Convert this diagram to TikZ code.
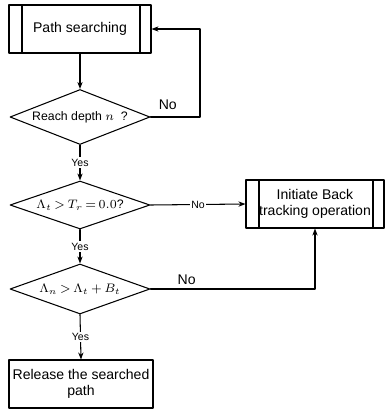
\documentclass[tikz,border=0pt]{standalone}
\usepackage{fontspec}
\setmainfont{Liberation Sans}
\usetikzlibrary{shapes.geometric,arrows.meta}

\tikzset{
  flow/.style={line width=0.6pt, -{Stealth[length=4pt,width=3pt]}},
  procbox/.style={draw, line width=0.6pt, minimum width=2.84cm, minimum height=0.96cm,
    inner sep=1pt, align=center, font=\fontsize{8}{9.5}\selectfont,
    path picture={
      \draw ([xshift=0.26cm]path picture bounding box.north west) -- ([xshift=0.26cm]path picture bounding box.south west);
      \draw ([xshift=-0.22cm]path picture bounding box.north east) -- ([xshift=-0.22cm]path picture bounding box.south east);
    }},
  endbox/.style={draw, line width=0.6pt, minimum width=2.88cm, minimum height=0.96cm,
    inner sep=1pt, align=center, font=\fontsize{8}{9.5}\selectfont},
  decide/.style={draw, diamond, aspect=3.4, line width=0.6pt, minimum width=2.8cm, inner sep=0pt,
    font=\fontsize{7}{8}\selectfont},
  yeslabel/.style={fill=white, inner sep=1pt, font=\fontsize{6}{7}\selectfont},
  nolabel/.style={inner sep=1pt, font=\fontsize{8}{9}\selectfont},
}

\begin{document}
\begin{tikzpicture}[line cap=round, line join=round, x=0.02cm, y=-0.02cm]

                \useasboundingbox (0,0) rectangle (386,410);

                % boxes and decisions
                \node[procbox] (search) at (80,29) {Path searching};
                \node[decide, minimum height=1.1cm] (depth) at (80,117) {Reach depth $n$\ \ ?};
                \node[decide, minimum height=0.96cm] (thresh) at (80,205) {$\Lambda_t\,{>}\,T_r\,{=}\,0.0$?};
                \node[decide, minimum height=1.0cm] (gain) at (80,289) {$\Lambda_n\,{>}\,\Lambda_t\,{+}\,B_t$};
                \node[procbox, minimum width=2.76cm] (back) at (315,204) {Initiate Back\\tracking operation};
                \node[endbox] (release) at (81,384) {Release the searched\\path};

                \coordinate (loop) at (200,117);

                % main line
                \draw[flow] (search.south) -- (depth.north);
                \draw[flow] (depth.south) -- node[yeslabel] {Yes} (thresh.north);
                \draw[flow] (thresh.south) -- node[yeslabel] {Yes} (gain.north);
                \draw[flow] (gain.south) -- node[yeslabel] {Yes} (release.north);

                % no branches
                \draw[flow] (depth.east) -- (loop) node[nolabel, pos=0.35, above, yshift=3pt] {No} |- (search.east);
                \draw[flow] (thresh.east) -- node[yeslabel, pos=0.5] {No} (back.west);
                \draw[flow] (gain.east) -| node[nolabel, pos=0.11, above, yshift=1pt] {No} (back.south);

\end{tikzpicture}
\end{document}
